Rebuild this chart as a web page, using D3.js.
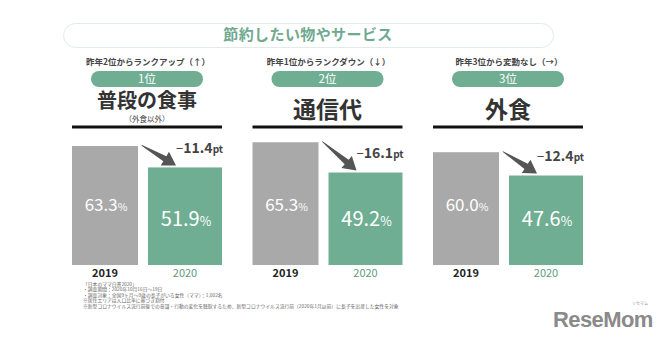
<!DOCTYPE html>
<html><head><meta charset="utf-8">
<script src="https://cdn.jsdelivr.net/npm/d3@7"></script>
<style>
html,body{margin:0;padding:0;background:#fff;}
svg{display:block;font-family:"Noto Sans CJK JP","Noto Sans",sans-serif;}
</style></head>
<body>
<script>
// ---- data ----
const categories = ["普段の食事", "通信代", "外食"];
const subCategories = ["（外食以外）", "", ""];
const ranks = ["1位", "2位", "3位"];
const rankNotes = ["昨年2位からランクアップ（↑）", "昨年1位からランクダウン（↓）", "昨年3位から変動なし（→）"];
const years = ["2019", "2020"];
const values2019 = [63.3, 65.3, 60.0];
const values2020 = [51.9, 49.2, 47.6];
const deltas = ["11.4", "16.1", "12.4"];
const title = "節約したい物やサービス";
const footnotes = [
  "「日本のママ白書2020」",
  "・調査期間：2020年10月16日～19日",
  "・調査対象：全国9ヶ月～9歳の長子がいる女性（ママ）：1,002名",
  "※居住エリアは人口比率に基づき割付",
  "※新型コロナウイルス流行前後での意識・行動の変化を聴取するため、新型コロナウイルス流行前（2020年1月以前）に長子を出産した女性を対象"
];

const W = 664, H = 341;
const GRAY = "#a9a9a9", GREEN = "#6fae93";
const svg = d3.select("body").append("svg").attr("width", W).attr("height", H);

// title pill
svg.append("rect").attr("x", 63.5).attr("y", 23.5).attr("width", 490).attr("height", 24).attr("rx", 12)
  .attr("fill", "#fff").attr("stroke", "#e3ebe7").attr("stroke-width", 1);
svg.append("text").attr("x", 308).attr("y", 35).attr("dy", "0.36em").attr("text-anchor", "middle")
  .attr("font-size", 15).attr("font-weight", 700).attr("fill", "#6fa98f").attr("letter-spacing", 0.4).text(title);

// scales
const panelX = d3.scaleBand().domain(categories).range([72, 583]).paddingInner(30.5 / 180.5);
const y = d3.scaleLinear().domain([0, 100]).range([265, 77]);
const barLeft = {"2019": 0, "2020": 76};
const barW = {"2019": 66, "2020": 74};

const data = categories.map((c, i) => ({
  cat: c, sub: subCategories[i], rank: ranks[i], note: rankNotes[i], delta: deltas[i],
  bars: [{year: "2019", v: values2019[i]}, {year: "2020", v: values2020[i]}]
}));

const panels = svg.selectAll("g.panel").data(data).join("g").attr("class", "panel")
  .attr("transform", d => `translate(${panelX(d.cat)},0)`);
const pw = panelX.bandwidth(), cx = pw / 2;

panels.append("text").attr("x", cx + 1).attr("y", 62).attr("dy", "0.36em").attr("text-anchor", "middle")
  .attr("font-size", 8.5).attr("font-weight", 700).attr("fill", "#444").text(d => d.note);
panels.append("rect").attr("x", cx - 56).attr("y", 71).attr("width", 112).attr("height", 16).attr("rx", 8).attr("fill", GREEN);
panels.append("text").attr("x", cx).attr("y", 79).attr("dy", "0.36em").attr("text-anchor", "middle")
  .attr("font-size", 11.5).attr("fill", "#fff").text(d => d.rank);
panels.append("text").attr("x", cx).attr("y", d => d.sub ? 101 : 110).attr("dy", "0.36em").attr("text-anchor", "middle")
  .attr("font-size", d => d.sub ? 20 : 23).attr("font-weight", 700).attr("fill", "#333").text(d => d.cat);
panels.append("text").attr("x", cx).attr("y", 119).attr("dy", "0.36em").attr("text-anchor", "middle")
  .attr("font-size", 7.5).attr("fill", "#444").text(d => d.sub);
panels.append("rect").attr("x", 0).attr("y", 125.5).attr("width", pw).attr("height", 3).attr("fill", "#111");

// bars
panels.selectAll("rect.bar").data(d => d.bars).join("rect").attr("class", "bar")
  .attr("x", b => barLeft[b.year]).attr("width", b => barW[b.year])
  .attr("y", b => y(b.v)).attr("height", b => y(0) - y(b.v))
  .attr("fill", b => b.year === "2019" ? GRAY : GREEN);

// value labels
const vl = panels.selectAll("text.val").data(d => d.bars).join("text").attr("class", "val")
  .attr("x", b => barLeft[b.year] + barW[b.year] / 2 + 1)
  .attr("y", b => b.year === "2019" ? y(0) - 60 : y(0) - 45)
  .attr("dy", "0.36em").attr("text-anchor", "middle").attr("fill", "#fff");
vl.append("tspan").attr("font-size", b => b.year === "2019" ? 17 : 20).text(b => b.v.toFixed(1));
vl.append("tspan").attr("font-size", b => b.year === "2019" ? 10.5 : 12.5).text("%");

// year labels
panels.selectAll("text.yr").data(d => d.bars).join("text").attr("class", "yr")
  .attr("x", b => barLeft[b.year] + barW[b.year] / 2)
  .attr("y", 273).attr("dy", "0.36em").attr("text-anchor", "middle").attr("font-size", 11)
  .attr("font-weight", b => b.year === "2019" ? 700 : 400)
  .attr("fill", b => b.year === "2019" ? "#222" : "#5f9a80").text(b => b.year);

// arrows
panels.each(function(d) {
  const g = d3.select(this);
  const x0 = barLeft["2019"] + barW["2019"] + 4, y0 = y(d.bars[0].v) - 1;
  const x1 = barLeft["2020"] + 28, y1 = y(d.bars[1].v) - 2;
  const ang = Math.atan2(y1 - y0, x1 - x0), len = Math.hypot(x1 - x0, y1 - y0);
  const hl = 13, hw = 8, sw = 3;
  const pts = [[0, 0], [len - hl, -sw], [len - hl, -hw], [len, 0], [len - hl, hw], [len - hl, sw], [0, 0.8]];
  g.append("polygon").attr("points", pts.map(p => p.join(",")).join(" "))
    .attr("fill", "#555").attr("transform", `translate(${x0},${y0}) rotate(${ang * 180 / Math.PI})`);
  const t = g.append("text").attr("x", barLeft["2020"] + barW["2020"] + 1).attr("y", y(d.bars[1].v) - 20)
    .attr("dy", "0.36em").attr("text-anchor", "end").attr("fill", "#444").attr("font-weight", 700);
  t.append("tspan").attr("font-size", 13).attr("font-weight", 400).text("−");
  t.append("tspan").attr("font-size", 14).text(d.delta);
  t.append("tspan").attr("font-size", 10).text("pt");
});

// footnotes
svg.append("g").selectAll("text").data(footnotes).join("text")
  .attr("x", 83).attr("y", (d, i) => 284 + i * 5.5).attr("dy", "0.36em")
  .attr("font-size", 4.8).attr("fill", "#666").text(d => d);

// logo
svg.append("text").attr("x", 553).attr("y", 327).attr("font-family", "Liberation Sans, Arial, sans-serif")
  .attr("font-size", 22).attr("font-weight", 700).attr("fill", "#8a8a8a").attr("letter-spacing", -0.6).text("ReseMom");
svg.append("text").attr("x", 640).attr("y", 305).attr("text-anchor", "middle")
  .attr("font-size", 4).attr("fill", "#999").text("リセマム");
</script>
</body></html>
